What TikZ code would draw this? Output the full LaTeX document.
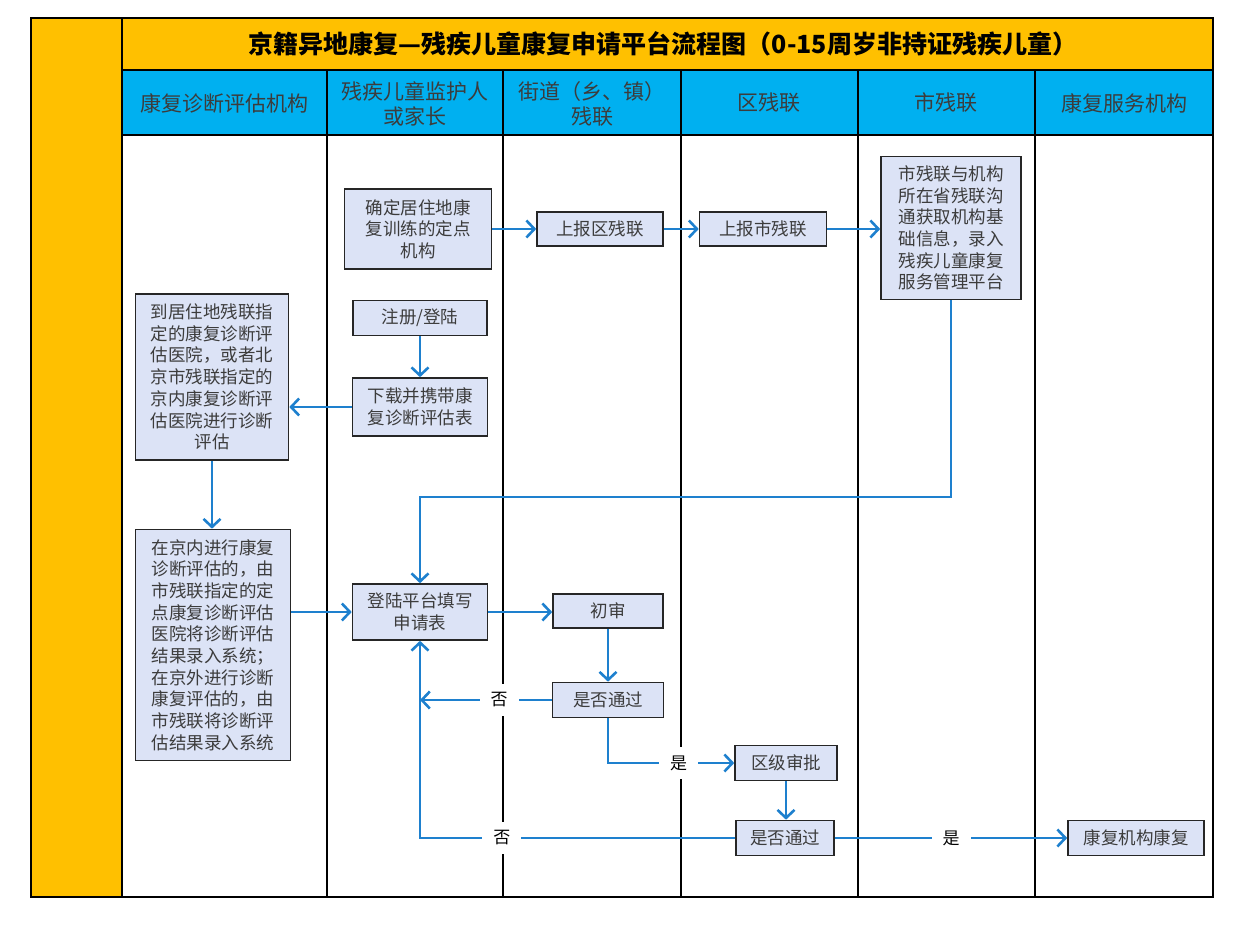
\documentclass[tikz,border=0pt]{standalone}
\usepackage{fontspec}
\setmainfont{Noto Sans CJK SC}
\usetikzlibrary{arrows.meta}
\definecolor{laneyellow}{RGB}{255,192,0}
\definecolor{headblue}{RGB}{0,176,240}
\definecolor{boxfill}{RGB}{220,227,246}
\definecolor{flowblue}{RGB}{30,128,206}
\definecolor{boxtext}{RGB}{60,60,60}

\begin{document}
\begin{tikzpicture}[x=1pt,y=-1pt]
				\tikzstyle{lane}=[line width=2pt,black]
				\tikzstyle{head}=[text=boxtext,align=center,font=\fontsize{21}{25}\selectfont]
				\tikzstyle{box}=[draw=black!85,line width=1.6pt,fill=boxfill,text=boxtext,
				align=center,inner sep=2pt,font=\fontsize{17.5}{21.7}\selectfont]
				\tikzstyle{flow}=[draw=flowblue,line width=2.8pt,
				-{Straight Barb[length=8pt,width=17pt,line width=2.6pt]}]
				\tikzstyle{lbl}=[fill=white,text=black,inner xsep=11pt,inner ysep=9pt,
				font=\fontsize{17}{20}\selectfont]
				\useasboundingbox (0,0) rectangle (1248,925);
				\fill[laneyellow] (31,18) rectangle (122,897);
				\fill[laneyellow] (122,18) rectangle (1213,70);
				\fill[headblue] (122,70) rectangle (1213,135);
				\draw[lane] (31,18) rectangle (1213,897);
				\draw[lane] (122,18) -- (122,897);
				\draw[lane] (122,70) -- (1213,70);
				\draw[lane] (122,135) -- (1213,135);
				\foreach \x in {327,503,681,858,1035}
				\draw[lane] (\x,70) -- (\x,897);
				\node[font=\fontsize{25}{28}\selectfont\bfseries] (title) at (663,44)
				{京籍异地康复—残疾儿童康复申请平台流程图（0-15周岁非持证残疾儿童）};
				\node[head] (h1) at (224,103) {康复诊断评估机构};
				\node[head] (h2) at (415,104) {残疾儿童监护人\\或家长};
				\node[head] (h3) at (592,104) {街道（乡、镇）\\残联};
				\node[head] (h4) at (769,103) {区残联};
				\node[head] (h5) at (946,103) {市残联};
				\node[head] (h6) at (1124,103) {康复服务机构};
				\node[box,minimum width=147,minimum height=80] (fix) at (418,229)
				{确定居住地康\\复训练的定点\\机构};
				\node[box,minimum width=126,minimum height=34] (rep1) at (600,229) {上报区残联};
				\node[box,minimum width=127,minimum height=34] (rep2) at (763,229) {上报市残联};
				\node[box,minimum width=140,minimum height=143] (city) at (951,228)
				{市残联与机构\\所在省残联沟\\通获取机构基\\础信息，录入\\残疾儿童康复\\服务管理平台};
				\node[box,minimum width=134,minimum height=35] (reg) at (420,318) {注册/登陆};
				\node[box,minimum width=135,minimum height=58] (down) at (420,407)
				{下载并携带康\\复诊断评估表};
				\node[box,minimum width=153,minimum height=166] (hosp) at (212,377)
				{到居住地残联指\\定的康复诊断评\\估医院，或者北\\京市残联指定的\\京内康复诊断评\\估医院进行诊断\\评估};
				\node[box,minimum width=155,minimum height=231] (entry) at (213,645)
				{在京内进行康复\\诊断评估的，由\\市残联指定的定\\点康复诊断评估\\医院将诊断评估\\结果录入系统；\\在京外进行诊断\\康复评估的，由\\市残联将诊断评\\估结果录入系统};
				\node[box,minimum width=135,minimum height=56] (apply) at (420,612)
				{登陆平台填写\\申请表};
				\node[box,minimum width=110,minimum height=34] (first) at (608,611) {初审};
				\node[box,minimum width=111,minimum height=35] (pass1) at (608,700) {是否通过};
				\node[box,minimum width=102,minimum height=35] (zone) at (786,763) {区级审批};
				\node[box,minimum width=98,minimum height=35] (pass2) at (785,838) {是否通过};
				\node[box,minimum width=136,minimum height=35] (rehab) at (1136,838) {康复机构康复};
				\coordinate (bend) at (420,497);
				\draw[flow] (fix) -- (rep1);
				\draw[flow] (rep1) -- (rep2);
				\draw[flow] (rep2) -- (rep2 -| city.west);
				\draw[flow] (city.south) |- (bend) -- (apply.north);
				\draw[flow] (reg) -- (down);
				\draw[flow] (down.west) -- (down.west -| hosp.east);
				\draw[flow] (hosp.south) -- (hosp.south |- entry.north);
				\draw[flow] (entry.east |- apply.west) -- (apply.west);
				\draw[flow] (apply.east) -- (apply.east -| first.west);
				\draw[flow] (first) -- (pass1);
				\draw[flow] (pass1.west) -- node[lbl,pos=0.4] {否} (pass1.west -| apply);
				\draw[flow] (pass1.south) |- node[lbl,pos=0.78] {是} (zone.west);
				\draw[flow] (zone.south) -- (zone.south |- pass2.north);
				\draw[flow] (pass2.west) -| node[lbl,pos=0.37] {否} (apply.south);
				\draw[flow] (pass2) -- node[lbl] {是} (rehab);
\end{tikzpicture}
\end{document}
